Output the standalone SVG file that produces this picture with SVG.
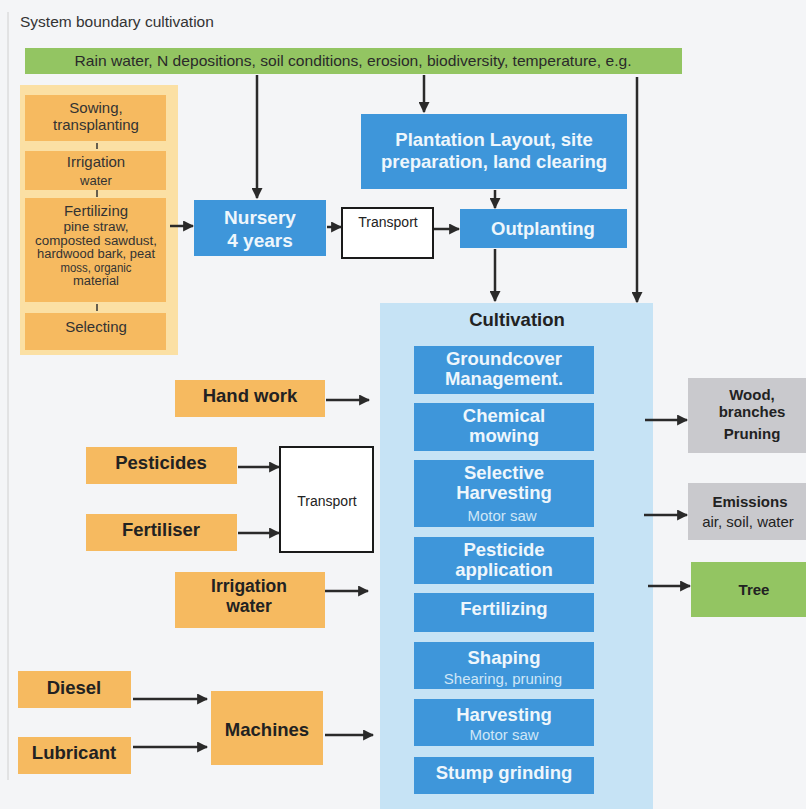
<svg xmlns="http://www.w3.org/2000/svg" width="806" height="809" viewBox="0 0 806 809">
<defs>
<marker id="ah" viewBox="0 0 10 10" refX="9" refY="5" markerWidth="4.4" markerHeight="4.4" orient="auto" markerUnits="strokeWidth">
<path d="M0,0 L10,5 L0,10 z" fill="#2a2a2a"/>
</marker>
<style>
text{font-family:"Liberation Sans",Arial,sans-serif;text-anchor:middle}
.org{fill:#f6ba60}
.blue{fill:#3e96da}
.gray{fill:#c9c9cd}
.green{fill:#93c562}
.wt{fill:#eef6fc;font-weight:bold;font-size:18.5px}
.ws{fill:#cfe6f7;font-size:15px}
.bk{fill:#222;font-weight:bold;font-size:18.5px}
.rt{fill:#222;font-weight:bold;font-size:15px}
.ot{fill:#333;font-size:15px}
.os{fill:#333;font-size:12px}
.conn line{stroke:#2a2a2a;stroke-width:2.5;fill:none;marker-end:url(#ah)}
.tb{fill:#fff;stroke:#1a1a1a;stroke-width:2}
</style>
</defs>
<rect width="806" height="809" fill="#f4f5f7"/>
<line x1="8" y1="12" x2="8" y2="780" stroke="#d0d0d0" stroke-width="1"/>
<text x="20" y="27" style="text-anchor:start;font-size:15.5px;fill:#333">System boundary  cultivation</text>

<g id="env">
<rect class="green" x="25" y="48" width="657" height="26"/>
<text x="353" y="66" textLength="557" lengthAdjust="spacingAndGlyphs" style="font-size:15px;fill:#2a2a2a">Rain water, N depositions, soil conditions, erosion, biodiversity, temperature, e.g.</text>
</g>

<g id="nursery-steps">
<rect x="20" y="85" width="158" height="270" fill="#fbe0a4"/>
<rect class="org" x="25" y="95" width="141" height="46"/>
<text class="ot" x="96" y="113">Sowing,</text>
<text class="ot" x="96" y="130">transplanting</text>
<line x1="97" y1="143" x2="97" y2="149" stroke="#333" stroke-width="1.5"/>
<rect class="org" x="25" y="151" width="141" height="39"/>
<text class="ot" x="96" y="167">Irrigation</text>
<text class="os" x="96" y="185" style="font-size:13px">water</text>
<line x1="97" y1="190" x2="97" y2="197" stroke="#333" stroke-width="1.5"/>
<rect class="org" x="25" y="198" width="141" height="104"/>
<text class="ot" x="96" y="216">Fertilizing</text>
<text class="os" x="96" y="231" textLength="65" lengthAdjust="spacingAndGlyphs">pine straw,</text>
<text class="os" x="96" y="244.5" textLength="122" lengthAdjust="spacingAndGlyphs">composted sawdust,</text>
<text class="os" x="96" y="258" textLength="118" lengthAdjust="spacingAndGlyphs">hardwood bark, peat</text>
<text class="os" x="96" y="271.5" textLength="71" lengthAdjust="spacingAndGlyphs">moss, organic</text>
<text class="os" x="96" y="285" textLength="46" lengthAdjust="spacingAndGlyphs">material</text>
<line x1="97" y1="304" x2="97" y2="311" stroke="#333" stroke-width="1.5"/>
<rect class="org" x="25" y="313" width="141" height="37"/>
<text class="ot" x="96" y="332">Selecting</text>
</g>

<g id="nursery">
<rect class="blue" x="194" y="200" width="132" height="56"/>
<text class="wt" x="260" y="224" style="font-size:19px">Nursery</text>
<text class="wt" x="260" y="247" style="font-size:19px">4 years</text>
</g>

<g id="transport1">
<rect class="tb" x="342" y="208" width="91" height="50"/>
<text x="388" y="227" style="font-size:14px;fill:#222">Transport</text>
</g>

<g id="plantation">
<rect class="blue" x="361" y="114" width="266" height="75"/>
<text class="wt" x="494" y="146">Plantation Layout, site</text>
<text class="wt" x="494" y="168">preparation, land clearing</text>
</g>

<g id="outplanting">
<rect class="blue" x="460" y="209" width="167" height="39"/>
<text class="wt" x="543" y="235">Outplanting</text>
</g>

<g id="cultivation">
<rect x="380" y="303" width="273" height="506" fill="#c6e3f5"/>
<text x="517" y="326" style="font-weight:bold;font-size:18.5px;fill:#222">Cultivation</text>
</g>
<g id="groundcover">
<rect class="blue" x="414" y="346" width="180" height="48"/>
<text class="wt" x="504" y="365">Groundcover</text>
<text class="wt" x="504" y="385">Management.</text>
</g>
<g id="mowing">
<rect class="blue" x="414" y="403" width="180" height="48"/>
<text class="wt" x="504" y="422">Chemical</text>
<text class="wt" x="504" y="442">mowing</text>
</g>
<g id="selective">
<rect class="blue" x="414" y="460" width="180" height="67"/>
<text class="wt" x="504" y="479">Selective</text>
<text class="wt" x="504" y="499">Harvesting</text>
<text class="ws" x="502" y="521">Motor saw</text>
</g>
<g id="pesticide-app">
<rect class="blue" x="414" y="537" width="180" height="47"/>
<text class="wt" x="504" y="556">Pesticide</text>
<text class="wt" x="504" y="576">application</text>
</g>
<g id="fertilizing">
<rect class="blue" x="414" y="593" width="180" height="39"/>
<text class="wt" x="504" y="615">Fertilizing</text>
</g>
<g id="shaping">
<rect class="blue" x="414" y="642" width="180" height="47"/>
<text class="wt" x="504" y="664">Shaping</text>
<text class="ws" x="503" y="684">Shearing, pruning</text>
</g>
<g id="harvesting">
<rect class="blue" x="414" y="699" width="180" height="47"/>
<text class="wt" x="504" y="721">Harvesting</text>
<text class="ws" x="504" y="740">Motor saw</text>
</g>
<g id="stump">
<rect class="blue" x="414" y="757" width="180" height="37"/>
<text class="wt" x="504" y="779">Stump grinding</text>
</g>

<g id="wood">
<rect class="gray" x="688" y="378" width="118" height="75"/>
<text class="rt" x="752" y="400">Wood,</text>
<text class="rt" x="752" y="417">branches</text>
<text class="rt" x="752" y="439">Pruning</text>
</g>
<g id="emissions">
<rect class="gray" x="688" y="483" width="118" height="57"/>
<text class="rt" x="750" y="507">Emissions</text>
<text x="748" y="527" style="font-size:15px;fill:#222">air, soil, water</text>
</g>
<g id="tree">
<rect class="green" x="691" y="562" width="115" height="55"/>
<text class="rt" x="754" y="595">Tree</text>
</g>

<g id="handwork">
<rect class="org" x="175" y="380" width="150" height="37"/>
<text class="bk" x="250" y="402">Hand work</text>
</g>
<g id="pesticides">
<rect class="org" x="86" y="447" width="151" height="37"/>
<text class="bk" x="161" y="469">Pesticides</text>
</g>
<g id="fertiliser">
<rect class="org" x="86" y="514" width="151" height="37"/>
<text class="bk" x="161" y="536">Fertiliser</text>
</g>
<g id="transport2">
<rect class="tb" x="280" y="447" width="93" height="105"/>
<text x="327" y="506" style="font-size:14px;fill:#222">Transport</text>
</g>
<g id="irrigation">
<rect class="org" x="175" y="572" width="150" height="56"/>
<text class="bk" x="249" y="592" style="font-size:17.5px">Irrigation</text>
<text class="bk" x="249" y="612" style="font-size:17.5px">water</text>
</g>
<g id="diesel">
<rect class="org" x="18" y="671" width="113" height="37"/>
<text class="bk" x="74" y="694">Diesel</text>
</g>
<g id="lubricant">
<rect class="org" x="18" y="737" width="113" height="37"/>
<text class="bk" x="74" y="759">Lubricant</text>
</g>
<g id="machines">
<rect class="org" x="211" y="691" width="112" height="74"/>
<text class="bk" x="267" y="736">Machines</text>
</g>

<g class="conn">
<line x1="257" y1="75" x2="257" y2="198"/>
<line x1="424" y1="75" x2="424" y2="112"/>
<line x1="637" y1="77" x2="637" y2="302"/>
<line x1="170" y1="226" x2="193" y2="226"/>
<line x1="327" y1="227" x2="341" y2="227"/>
<line x1="434" y1="229" x2="459" y2="229"/>
<line x1="495" y1="190" x2="495" y2="208"/>
<line x1="495" y1="249" x2="495" y2="301"/>
<line x1="645" y1="420" x2="687" y2="420"/>
<line x1="644" y1="515" x2="687" y2="515"/>
<line x1="648" y1="586" x2="690" y2="586"/>
<line x1="326" y1="400" x2="369" y2="400"/>
<line x1="238" y1="467" x2="279" y2="467"/>
<line x1="238" y1="533" x2="279" y2="533"/>
<line x1="325" y1="591" x2="368" y2="591"/>
<line x1="133" y1="699" x2="207" y2="699"/>
<line x1="133" y1="747" x2="207" y2="747"/>
<line x1="325" y1="735" x2="373" y2="735"/>
</g>
</svg>
